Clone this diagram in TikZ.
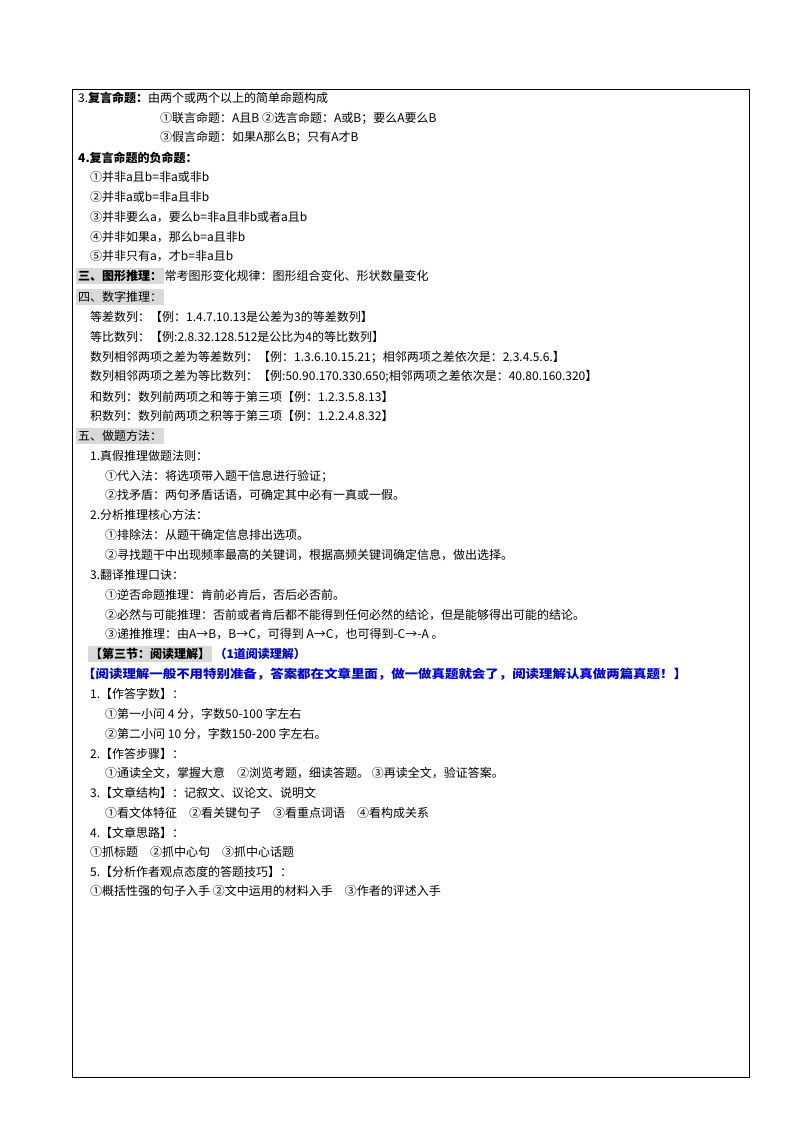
\documentclass[tikz,border=0pt]{standalone}
\usepackage{fontspec}
\setmainfont{Noto Sans CJK SC}
\begin{document}
\begin{tikzpicture}[x=1pt,y=-1pt,
  t/.style={anchor=west,inner sep=0pt,font=\fontsize{12}{13}\selectfont},
  hl/.style={t,fill=black!15,inner xsep=2pt,inner ysep=2pt},
  bl/.style={t,text=blue!85!black}]
\useasboundingbox (0,0) rectangle (800,1131);
\draw[line width=0.8pt] (72,89) rectangle (749,1077);
\node[t] (a1) at (78,98) {3.\textbf{复言命题：}由两个或两个以上的简单命题构成};
\node[t] (a2) at (160,118) {①联言命题：A且B ②选言命题：A或B；要么A要么B};
\node[t] (a3) at (160,137) {③假言命题：如果A那么B；只有A才B};
\node[t] (b0) at (78,158) {\textbf{4.复言命题的负命题：}};
\node[t] (b1) at (90,177) {①并非a且b=非a或非b};
\node[t] (b2) at (90,197) {②并非a或b=非a且非b};
\node[t] (b3) at (90,217) {③并非要么a，要么b=非a且非b或者a且b};
\node[t] (b4) at (90,237) {④并非如果a，那么b=a且非b};
\node[t] (b5) at (90,256) {⑤并非只有a，才b=非a且b};
\node[hl] (c0) at (76,276) {\textbf{三、图形推理：}};
\node[t] (c1) at (c0.east) {常考图形变化规律：图形组合变化、形状数量变化};
\node[hl] (d0) at (76,297) {四、数字推理：};
\node[t] (d1) at (90,317) {等差数列：【例：1.4.7.10.13是公差为3的等差数列】};
\node[t] (d2) at (90,337) {等比数列：【例:2.8.32.128.512是公比为4的等比数列】};
\node[t] (d3) at (90,357) {数列相邻两项之差为等差数列：【例：1.3.6.10.15.21；相邻两项之差依次是：2.3.4.5.6.】};
\node[t] (d4) at (90,377) {数列相邻两项之差为等比数列：【例:50.90.170.330.650;相邻两项之差依次是：40.80.160.320】};
\node[t] (d5) at (90,397) {和数列：数列前两项之和等于第三项【例：1.2.3.5.8.13】};
\node[t] (d6) at (90,416) {积数列：数列前两项之积等于第三项【例：1.2.2.4.8.32】};
\node[hl] (e0) at (76,436) {五、做题方法：};
\node[t] (e1) at (90,456) {1.真假推理做题法则：};
\node[t] (e2) at (105,476) {①代入法：将选项带入题干信息进行验证；};
\node[t] (e3) at (105,495) {②找矛盾：两句矛盾话语，可确定其中必有一真或一假。};
\node[t] (e4) at (90,515) {2.分析推理核心方法：};
\node[t] (e5) at (105,535) {①排除法：从题干确定信息排出选项。};
\node[t] (e6) at (105,555) {②寻找题干中出现频率最高的关键词，根据高频关键词确定信息，做出选择。};
\node[t] (e7) at (90,575) {3.翻译推理口诀：};
\node[t] (e8) at (105,595) {①逆否命题推理：肯前必肯后，否后必否前。};
\node[t] (e9) at (105,615) {②必然与可能推理：否前或者肯后都不能得到任何必然的结论，但是能够得出可能的结论。};
\node[t] (e10) at (105,634) {③递推推理：由A→B，B→C，可得到 A→C，也可得到-C→-A 。};
\node[hl] (f0) at (88,654) {\textbf{【第三节：阅读理解】}};
\node[bl] (f1) at ([xshift=2pt]f0.east) {\textbf{（1道阅读理解）}};
\node[bl] (f2) at (82,674) {\scalebox{1.12}[1]{\textbf{【阅读理解一般不用特别准备，答案都在文章里面，做一做真题就会了，阅读理解认真做两篇真题！】}}};
\node[t] (g1) at (90,694) {1.【作答字数】：};
\node[t] (g2) at (105,714) {①第一小问 4 分，字数50-100 字左右};
\node[t] (g3) at (105,734) {②第二小问 10 分，字数150-200 字左右。};
\node[t] (g4) at (90,754) {2.【作答步骤】：};
\node[t] (g5) at (105,773) {①通读全文，掌握大意\quad ②浏览考题，细读答题。 ③再读全文，验证答案。};
\node[t] (g6) at (90,793) {3.【文章结构】：记叙文、议论文、说明文};
\node[t] (g7) at (105,813) {①看文体特征\quad ②看关键句子\quad ③看重点词语\quad ④看构成关系};
\node[t] (g8) at (90,833) {4.【文章思路】：};
\node[t] (g9) at (90,852) {①抓标题\quad ②抓中心句\quad ③抓中心话题};
\node[t] (g10) at (90,872) {5.【分析作者观点态度的答题技巧】：};
\node[t] (g11) at (90,891) {①概括性强的句子入手 ②文中运用的材料入手\quad ③作者的评述入手};
\end{tikzpicture}
\end{document}
